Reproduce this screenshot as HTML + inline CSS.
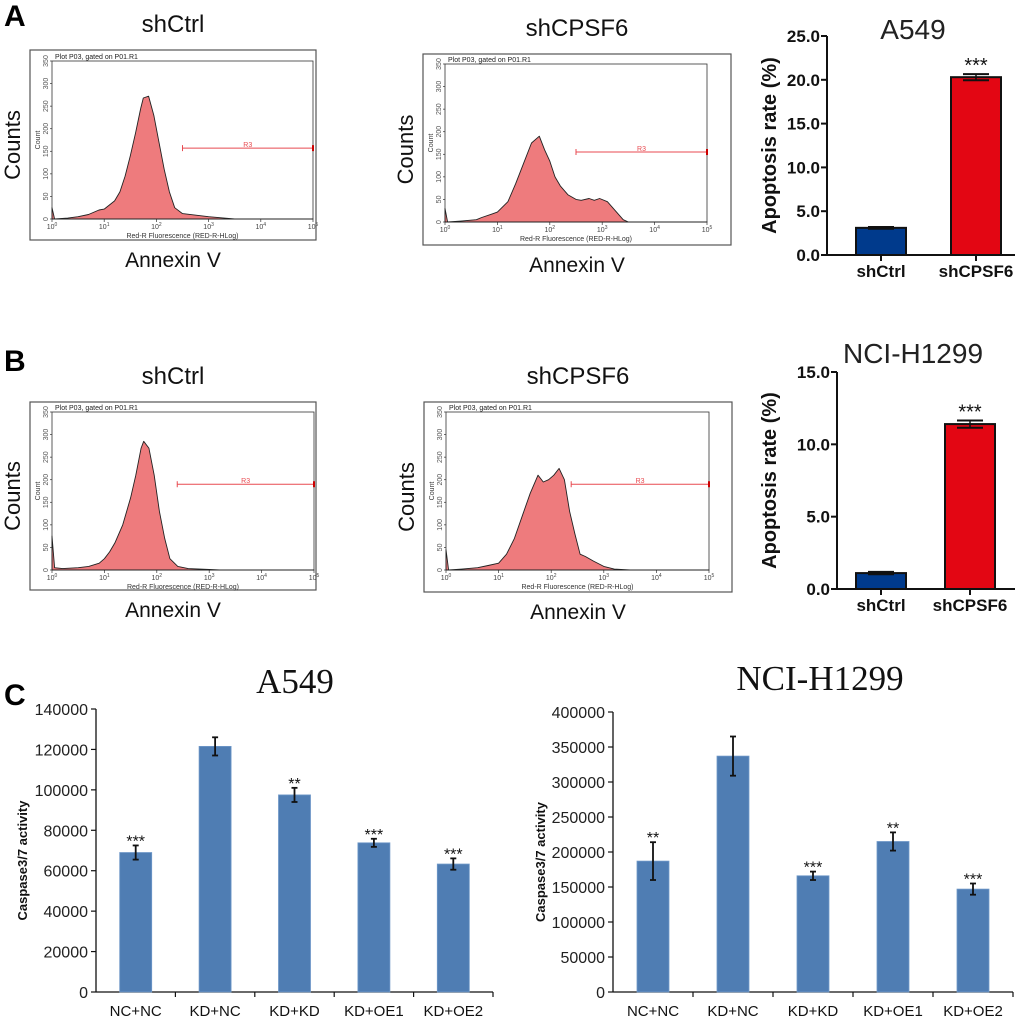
<!DOCTYPE html>
<html><head><meta charset="utf-8"><style>
html,body{margin:0;padding:0;background:#fff}
svg{display:block;font-family:"Liberation Sans",Arial,sans-serif}
</style></head><body>
<svg id="fig" width="1020" height="1020" viewBox="0 0 1020 1020" xmlns="http://www.w3.org/2000/svg">
<text x="4" y="26" font-size="30" font-weight="bold">A</text>
<text x="4" y="371" font-size="30" font-weight="bold">B</text>
<text x="4" y="705" font-size="30" font-weight="bold">C</text>
</svg>
<script>
// ---------- data ----------
const histA1Log=[0,0.05,0.3,0.5,0.7,0.9,1.0,1.2,1.3,1.4,1.5,1.6,1.7,1.75,1.85,1.95,2.05,2.15,2.25,2.35,2.5,2.8,3.0,3.3,3.5,5];
const histA1Cnt=[25,0,2,5,10,20,22,40,60,95,140,190,245,268,272,230,170,110,60,25,12,8,5,2,0,0];
const histA2Log=[0,0.05,0.3,0.6,0.7,0.9,1.0,1.2,1.35,1.5,1.65,1.8,1.9,2.0,2.1,2.2,2.35,2.5,2.6,2.75,2.85,2.95,3.1,3.25,3.4,3.5,5];
const histA2Cnt=[30,0,2,5,10,18,22,45,85,130,175,190,160,135,100,80,60,50,48,52,48,52,45,25,5,0,0];
const histB1Log=[0,0.05,0.2,0.5,0.7,0.9,1.0,1.1,1.2,1.35,1.5,1.6,1.7,1.75,1.85,1.95,2.05,2.15,2.25,2.4,2.6,3.0,3.2,5];
const histB1Cnt=[75,5,3,5,8,15,25,40,60,100,160,210,270,285,270,210,130,70,25,8,3,1,0,0];
const histB2Log=[0,0.05,0.3,0.6,0.8,1.0,1.15,1.3,1.45,1.6,1.75,1.85,1.95,2.05,2.15,2.25,2.35,2.45,2.55,2.65,2.8,3.0,3.2,3.5,5];
const histB2Cnt=[45,0,2,5,10,15,35,70,120,170,210,195,200,210,225,200,130,80,35,30,20,8,2,0,0];
const gateStart=[2.5,2.5,2.39,2.38];
const gateCount=[157,155,190,190];
const flowTicksY=[0,50,100,150,200,250,300,350];
const flowDecades=[0,1,2,3,4,5];

const apoCats=["shCtrl","shCPSF6"];
const apoA=[3.1,20.3], apoAErr=[0.1,0.35];
const apoB=[1.1,11.4], apoBErr=[0.08,0.25];
const apoATicks=[0,5,10,15,20,25];
const apoBTicks=[0,5,10,15];

const casCats=["NC+NC","KD+NC","KD+KD","KD+OE1","KD+OE2"];
const casA=[69000,121500,97500,73800,63300];
const casAErr=[3500,4500,3500,2000,2800];
const casAStars=["***","","**","***","***"];
const casATicks=[0,20000,40000,60000,80000,100000,120000,140000];
const casB=[187000,337000,166000,215000,147000];
const casBErr=[27000,28000,6000,13000,8000];
const casBStars=["**","","***","**","***"];
const casBTicks=[0,50000,100000,150000,200000,250000,300000,350000,400000];

// ---------- helpers ----------
const svg=document.getElementById('fig');
const NS="http://www.w3.org/2000/svg";
function mk(tag,attrs,parent,txt){const e=document.createElementNS(NS,tag);for(const k in attrs)e.setAttribute(k,attrs[k]);if(txt!==undefined)e.textContent=txt;(parent||svg).appendChild(e);return e;}

// ---------- flow plots ----------
function flow(name,box,inner,title,logs,cnts,gi){
  const g=mk('g',{});
  
  
  const [bx,by,bx2,by2]=box,[ix,iy,ix2,iz]=inner;
  const X=v=>ix+(ix2-ix)*v/5, Y=c=>iz-(iz-iy)*c/350;
  const cx=(bx+bx2)/2;
  let t=mk('text',{x:cx,y:by-18,'font-size':24,'text-anchor':'middle',fill:'#111'},g,title);
  
  t=mk('text',{x:0,y:0,'font-size':22,'text-anchor':'middle',fill:'#111',transform:`translate(${bx-10},${(by+by2)/2}) rotate(-90)`},g,'Counts');
  
  t=mk('text',{x:cx,y:by2+27,'font-size':21,'text-anchor':'middle',fill:'#111'},g,'Annexin V');
  
  let r=mk('rect',{x:bx,y:by,width:bx2-bx,height:by2-by,fill:'#fff',stroke:'#555','stroke-width':1.2},g);
  
  r=mk('rect',{x:ix,y:iy,width:ix2-ix,height:iz-iy,fill:'none',stroke:'#333','stroke-width':0.8},g);
  
  mk('text',{x:ix+3,y:iy-2,'font-size':7,fill:'#222'},g,'Plot P03, gated on P01.R1');
  flowTicksY.forEach(v=>{mk('line',{x1:ix-2,x2:ix,y1:Y(v),y2:Y(v),stroke:'#333','stroke-width':0.7},g);
    mk('text',{x:0,y:0,'font-size':7,fill:'#555','text-anchor':'middle',transform:`translate(${ix-4},${Y(v)}) rotate(-90)`},g,v);});
  mk('text',{x:0,y:0,'font-size':7,fill:'#333','text-anchor':'middle',transform:`translate(${ix-12},${(iy+iz)/2}) rotate(-90)`},g,'Count');
  flowDecades.forEach(d=>{mk('line',{x1:X(d),x2:X(d),y1:iz,y2:iz+3,stroke:'#333','stroke-width':0.7},g);
    const tt=mk('text',{x:X(d),y:iz+10,'font-size':7,fill:'#444','text-anchor':'middle'},g,'10');
    mk('tspan',{dy:-3,'font-size':5},tt,String(d));});
  mk('text',{x:(ix+ix2)/2,y:iz+19,'font-size':7,fill:'#333','text-anchor':'middle'},g,'Red-R Fluorescence (RED-R-HLog)');
  let d=`M${X(logs[0])},${iz}`;
  logs.forEach((l,i)=>{d+=` L${X(l).toFixed(1)},${Y(cnts[i]).toFixed(1)}`;});
  d+=` L${X(logs[logs.length-1])},${iz} Z`;
  const p=mk('path',{d:d,fill:'#ee7b7d',stroke:'#222','stroke-width':0.9,'stroke-linejoin':'round'},g);
  
  const gy=Y(gateCount[gi]),gx=X(gateStart[gi]),gx2=X(5);
  const gl=mk('line',{x1:gx,x2:gx2,y1:gy,y2:gy,stroke:'#e84a50','stroke-width':1},g);
  
  mk('line',{x1:gx,x2:gx,y1:gy-3,y2:gy+3,stroke:'#e84a50','stroke-width':1},g);
  mk('line',{x1:gx2,x2:gx2,y1:gy-3,y2:gy+3,stroke:'#c00','stroke-width':2},g);
  mk('text',{x:(gx+gx2)/2,y:gy-1,'font-size':7,fill:'#e84a50','text-anchor':'middle'},g,'R3');
}
flow('flow-a-shctrl',[30,50,316,240],[52,61,313,219],'shCtrl',histA1Log,histA1Cnt,0);
flow('flow-a-shcpsf6',[423,54,731,245],[445,64,707,222],'shCPSF6',histA2Log,histA2Cnt,1);
flow('flow-b-shctrl',[30,402,316,590],[52,412,314,570],'shCtrl',histB1Log,histB1Cnt,2);
flow('flow-b-shcpsf6',[424,402,732,592],[446,412,709,570],'shCPSF6',histB2Log,histB2Cnt,3);

// ---------- apoptosis bar charts ----------
function apo(name,ax,y0,ytop,xend,max,ticks,vals,errs,title,titleY,barX){
  const g=mk('g',{});
  
  
  const Y=v=>y0-(y0-ytop)*v/max;
  let t=mk('text',{x:913,y:titleY,'font-size':28,'text-anchor':'middle',fill:'#222'},g,title);
  
  t=mk('text',{x:0,y:0,'font-size':20,'font-weight':'bold','text-anchor':'middle',fill:'#111',transform:`translate(776,${(y0+ytop)/2}) rotate(-90)`},g,'Apoptosis rate (%)');
  
  mk('line',{x1:ax,x2:ax,y1:ytop,y2:y0,stroke:'#111','stroke-width':2},g);
  mk('line',{x1:ax,x2:xend,y1:y0,y2:y0,stroke:'#111','stroke-width':2},g);
  ticks.forEach(v=>{mk('line',{x1:ax-6,x2:ax,y1:Y(v),y2:Y(v),stroke:'#111','stroke-width':2},g);
    mk('text',{x:ax-7,y:Y(v)+6,'font-size':17,'font-weight':'bold','text-anchor':'end',fill:'#111'},g,v.toFixed(1));});
  const cols=['#003a8c','#e30613'];
  vals.forEach((v,i)=>{
    const x=barX[i],w=50,cx=x+w/2;
    const b=mk('rect',{x:x,y:Y(v),width:w,height:y0-Y(v),fill:cols[i],stroke:'#111','stroke-width':2},g);
    
    mk('line',{x1:cx,x2:cx,y1:Y(v+errs[i]),y2:Y(v-errs[i]),stroke:'#111','stroke-width':1.5},g);
    mk('line',{x1:cx-13,x2:cx+13,y1:Y(v+errs[i]),y2:Y(v+errs[i]),stroke:'#111','stroke-width':2},g);
    mk('line',{x1:cx-13,x2:cx+13,y1:Y(v-errs[i]),y2:Y(v-errs[i]),stroke:'#111','stroke-width':2},g);
    mk('line',{x1:cx,x2:cx,y1:y0,y2:y0+6,stroke:'#111','stroke-width':2},g);
    mk('text',{x:cx,y:y0+22,'font-size':17,'font-weight':'bold','text-anchor':'middle',fill:'#111'},g,apoCats[i]);
    if(i===1) mk('text',{x:cx,y:Y(v+errs[i])-2,'font-size':20,'text-anchor':'middle',fill:'#111'},g,'***');
  });
}
apo('apoptosis-a549',827,255,36,1015,25,apoATicks,apoA,apoAErr,'A549',39,[856,951]);
apo('apoptosis-h1299',837,589,372,1015,15,apoBTicks,apoB,apoBErr,'NCI-H1299',363,[856,945]);

// ---------- caspase charts ----------
function cas(name,ax,y0,ytop,xend,max,ticks,vals,errs,stars,title,titleX,titleY,labX){
  const g=mk('g',{});
  
  
  const Y=v=>y0-(y0-ytop)*v/max;
  const cw=(xend-ax)/vals.length;
  let t=mk('text',{x:titleX,y:titleY,'font-size':35,'text-anchor':'middle',fill:'#111','font-family':'"Liberation Serif",serif'},g,title);
  
  t=mk('text',{x:0,y:0,'font-size':13,'font-weight':'bold','text-anchor':'middle',fill:'#111',transform:`translate(${labX},${(y0+ytop)/2+10}) rotate(-90)`},g,'Caspase3/7 activity');
  
  mk('line',{x1:ax,x2:ax,y1:ytop,y2:y0,stroke:'#111','stroke-width':1.3},g);
  mk('line',{x1:ax,x2:xend,y1:y0,y2:y0,stroke:'#111','stroke-width':1.3},g);
  ticks.forEach(v=>{mk('line',{x1:ax-5,x2:ax,y1:Y(v),y2:Y(v),stroke:'#111','stroke-width':1.2},g);
    mk('text',{x:ax-8,y:Y(v)+6,'font-size':16,'text-anchor':'end',fill:'#222'},g,v);});
  vals.forEach((v,i)=>{
    const cx=ax+cw*(i+0.5),w=32;
    mk('line',{x1:ax+cw*(i+1),x2:ax+cw*(i+1),y1:y0,y2:y0+5,stroke:'#111','stroke-width':1.2},g);
    const b=mk('rect',{x:cx-w/2,y:Y(v),width:w,height:y0-Y(v),fill:'#4f7db3',stroke:'#6f98c8','stroke-width':0.8},g);
    
    const e1=Y(v+errs[i]),e2=Y(v-errs[i]);
    mk('line',{x1:cx,x2:cx,y1:e1,y2:e2,stroke:'#111','stroke-width':1.8},g);
    mk('line',{x1:cx-3,x2:cx+3,y1:e1,y2:e1,stroke:'#111','stroke-width':1.8},g);
    mk('line',{x1:cx-3,x2:cx+3,y1:e2,y2:e2,stroke:'#111','stroke-width':1.8},g);
    mk('text',{x:cx,y:y0+24,'font-size':15,'text-anchor':'middle',fill:'#111'},g,casCats[i]);
    if(stars[i]) mk('text',{x:cx,y:e1+1,'font-size':16,'text-anchor':'middle',fill:'#111'},g,stars[i]);
  });
}
cas('caspase-a549',96,992,709,493,140000,casATicks,casA,casAErr,casAStars,'A549',295,693,27);
cas('caspase-h1299',613,992,712,1013,400000,casBTicks,casB,casBErr,casBStars,'NCI-H1299',820,690,545);
</script>
</body></html>
